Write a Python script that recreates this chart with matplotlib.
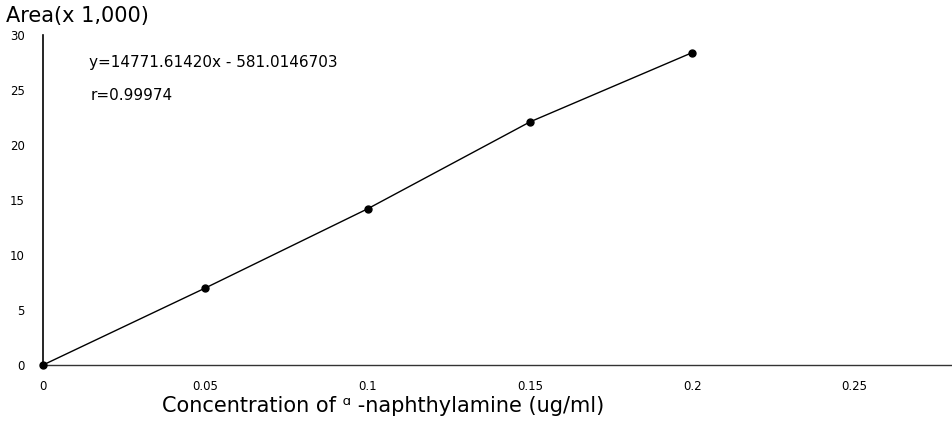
import matplotlib
matplotlib.use("Agg")
import matplotlib.pyplot as plt

plt.rcParams['font.family'] = ['DejaVu Sans']

concentration = [0.0, 0.05, 0.1, 0.15, 0.2]
area_k = [0.0, 7.0, 14.2, 22.1, 28.4]
x_ticks = [0, 0.05, 0.1, 0.15, 0.2, 0.25]
x_tick_labels = ["0", "0.05", "0.1", "0.15", "0.2", "0.25"]
y_ticks = [0, 5, 10, 15, 20, 25, 30]
y_tick_labels = ["0", "5", "10", "15", "20", "25", "30"]
equation = "y=14771.61420x - 581.0146703"
r_text = "r=0.99974"

fig = plt.figure(figsize=(9.52, 4.23), dpi=100)
ax = fig.add_axes([43/952, 1 - 365/423, 1 - 43/952, 330/423])

ax.plot(concentration, area_k, color='black', linewidth=1.0,
        marker='o', markersize=5, markerfacecolor='black',
        markeredgecolor='black', clip_on=False, zorder=3)

ax.set_xlim(0, 0.28)
ax.set_ylim(0, 30)
ax.set_xticks(x_ticks)
ax.set_xticklabels(x_tick_labels)
ax.set_yticks(y_ticks)
ax.set_yticklabels(y_tick_labels)
ax.tick_params(axis='x', length=0, pad=11, labelsize=8.5)
ax.tick_params(axis='y', length=0, pad=13, labelsize=8.5)

for s in ['top', 'right']:
    ax.spines[s].set_visible(False)
ax.spines['left'].set_color('black')
ax.spines['left'].set_linewidth(1.2)
ax.spines['bottom'].set_color('#333333')
ax.spines['bottom'].set_linewidth(1.0)

fig.text(6/952, 1 - 16/423, "Area(x 1,000)", fontsize=15, va='center', ha='left')
fig.text(89/952, 1 - 63/423, equation, fontsize=11, va='center', ha='left')
fig.text(91/952, 1 - 96/423, r_text, fontsize=11, va='center', ha='left')
fig.text(383/952, 1 - 406/423, "Concentration of \u1d45 -naphthylamine (ug/ml)",
         fontsize=15, va='center', ha='center')

fig.savefig("out.png", dpi=100)
